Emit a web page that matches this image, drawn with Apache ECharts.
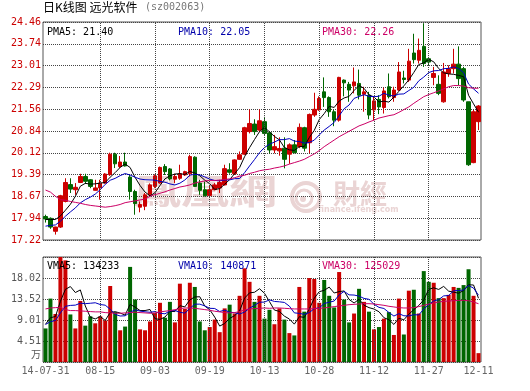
<!DOCTYPE html>
<html><head><meta charset="utf-8">
<script src="https://cdn.jsdelivr.net/npm/echarts@6/dist/echarts.min.js"></script>
<style>html,body{margin:0;padding:0;background:#fff;}#c{width:530px;height:391px;}</style>
</head><body><div id="c"></div>
<script>
// ---------- data ----------
const dates = ['2014-07-31','2014-08-01','2014-08-04','2014-08-05','2014-08-06','2014-08-07','2014-08-08','2014-08-11','2014-08-12','2014-08-13','2014-08-14','2014-08-15',
'2014-08-18','2014-08-19','2014-08-20','2014-08-25','2014-08-26','2014-08-27','2014-08-28','2014-08-29','2014-09-01','2014-09-02','2014-09-03',
'2014-09-04','2014-09-05','2014-09-09','2014-09-10','2014-09-11','2014-09-12','2014-09-15','2014-09-16','2014-09-17','2014-09-18','2014-09-19',
'2014-09-22','2014-09-23','2014-09-24','2014-09-25','2014-09-26','2014-09-29','2014-09-30','2014-10-08','2014-10-09','2014-10-10','2014-10-13',
'2014-10-14','2014-10-15','2014-10-16','2014-10-17','2014-10-20','2014-10-21','2014-10-22','2014-10-23','2014-10-24','2014-10-27','2014-10-28',
'2014-10-29','2014-10-30','2014-10-31','2014-11-03','2014-11-04','2014-11-05','2014-11-06','2014-11-07','2014-11-10','2014-11-11','2014-11-12',
'2014-11-13','2014-11-14','2014-11-17','2014-11-18','2014-11-19','2014-11-20','2014-11-21','2014-11-24','2014-11-25','2014-11-26','2014-11-27',
'2014-11-28','2014-12-01','2014-12-02','2014-12-03','2014-12-04','2014-12-05','2014-12-08','2014-12-09','2014-12-10','2014-12-11'];

const opens = [18.00,17.94,17.51,17.65,18.50,19.06,18.89,19.13,19.33,19.22,18.87,18.95,19.11,19.39,20.07,19.66,19.81,19.31,18.83,18.31,18.34,18.72,19.00,19.11,19.66,19.58,19.24,19.27,19.38,19.42,19.97,19.11,18.89,18.70,18.89,18.95,19.05,19.55,19.42,19.90,20.07,20.82,21.07,20.87,
21.15,20.78,20.21,20.18,20.27,20.07,20.38,20.32,20.95,20.45,21.37,21.54,22.14,21.95,21.48,21.20,22.53,22.39,22.34,22.42,22.06,22.03,21.54,21.89,21.62,22.31,21.95,22.20,22.60,22.53,23.43,23.19,23.65,23.24,22.62,22.39,21.81,22.75,22.91,23.06,22.91,21.81,19.79,21.15];
const closes = [17.92,17.65,17.65,18.69,19.13,18.91,18.97,19.33,19.17,19.00,18.95,19.11,19.41,20.07,19.75,19.81,19.68,18.83,18.43,18.40,18.72,19.05,19.35,19.63,19.49,19.25,19.33,19.42,19.49,19.99,19.00,18.87,18.69,18.89,19.05,19.13,19.59,19.47,19.88,20.05,20.95,21.09,20.82,21.18,
20.76,20.21,20.32,20.26,19.90,20.38,20.12,20.96,20.27,21.39,21.56,21.92,21.95,21.48,21.20,22.62,22.44,22.20,22.47,22.03,22.14,21.37,21.84,21.64,22.17,21.98,22.20,22.80,22.55,23.16,23.21,23.52,23.08,23.13,22.75,22.09,22.80,22.91,23.06,22.58,21.87,19.72,21.48,21.67];
const lows = [17.80,17.59,17.40,17.62,18.47,18.78,18.72,19.11,19.08,18.94,18.86,18.56,19.09,19.35,19.61,19.61,19.66,18.56,18.06,18.14,18.21,18.70,18.95,19.09,19.38,19.20,19.11,19.22,19.35,19.33,18.99,18.72,18.67,18.67,18.87,18.78,19.03,19.42,19.38,19.88,20.05,20.76,20.71,20.82,
20.71,20.10,20.10,20.02,19.60,19.75,20.10,20.27,20.16,20.10,21.31,21.51,21.64,21.31,21.00,21.15,21.99,21.81,22.09,21.89,21.48,21.23,21.20,21.40,21.42,21.92,21.81,22.17,22.42,22.47,23.08,23.08,22.97,23.02,22.36,22.03,21.78,22.64,22.75,22.36,21.81,19.68,19.77,20.87];
const highs = [18.06,17.97,17.66,18.72,19.27,19.27,19.11,19.42,19.42,19.24,19.22,19.22,19.44,20.12,20.12,20.01,20.12,19.38,18.89,18.50,18.78,19.10,19.40,19.66,19.74,19.61,19.42,19.72,19.52,20.05,20.00,19.22,19.16,19.05,19.11,19.22,19.72,19.77,19.90,20.16,20.98,21.56,21.23,21.56,
21.31,20.82,20.71,20.63,20.63,20.43,20.54,21.09,20.98,21.42,22.11,21.99,22.62,21.99,21.54,22.64,22.55,22.47,22.95,22.88,22.31,22.14,21.98,22.03,22.28,22.75,22.31,23.13,22.84,23.57,24.07,23.91,24.42,23.30,22.97,22.69,23.10,23.02,23.57,23.65,22.97,21.81,21.54,21.70];
// volume, in 万
const volumes = [7.2,13.6,10.3,25.0,21.8,10.2,7.2,13.1,7.8,9.8,8.3,9.8,8.9,16.3,10.7,6.8,7.6,20.4,13.4,7.0,6.8,8.7,10.5,12.7,9.5,12.9,8.5,16.8,11.4,17.0,16.1,8.7,6.8,7.5,9.1,6.4,11.5,12.3,10.4,14.2,20.1,17.2,12.9,
14.2,9.3,11.2,8.1,11.5,9.1,6.2,5.7,16.1,10.8,18.0,17.8,12.7,17.6,14.2,11.7,19.3,13.4,8.5,10.4,15.7,12.9,10.8,7.0,7.5,9.3,10.7,5.8,13.6,5.9,15.3,15.5,10.4,19.5,17.2,17.0,13.7,13.7,14.4,16.1,15.9,16.5,19.9,14.2,1.9];
// closes / volumes of the days just before the window (estimated from where the MA lines start)
const priorCloses = [17.40,17.50,17.45,17.48,17.47,17.65,17.65,18.10,18.18];
const priorVolumes = [7.5,8.0,8.5,7.8,8.2,6.6,9.0,8.7,9.0];
// 30-day averages (their window reaches outside the chart)
const ma30 = [18.88,18.81,18.67,18.56,18.54,18.50,18.47,18.44,18.40,18.37,18.35,18.33,18.31,18.33,18.36,18.40,18.46,18.49,18.52,18.55,
18.58,18.67,18.73,18.77,18.82,18.88,18.93,18.98,19.01,19.05,19.11,19.15,19.18,19.20,19.20,19.21,19.23,19.25,19.29,19.34,
19.37,19.43,19.47,19.52,19.55,19.57,19.61,19.64,19.68,19.74,19.79,19.84,19.90,19.99,20.08,20.19,20.32,20.43,20.54,20.65,
20.74,20.83,20.92,21.01,21.07,21.14,21.20,21.27,21.31,21.35,21.38,21.46,21.55,21.64,21.76,21.87,21.98,22.05,22.11,22.17,
22.24,22.31,22.35,22.35,22.33,22.28,22.26,22.26];
const vma30 = [11.38,11.59,11.66,11.74,11.24,11.03,11.03,10.96,10.89,10.82,10.75,10.75,10.60,10.53,10.46,10.46,10.53,10.60,10.68,10.60,
10.53,10.46,10.53,10.75,10.89,11.03,11.24,11.45,11.59,11.59,11.52,11.38,11.24,11.10,10.89,10.75,10.60,10.53,10.60,10.82,
11.17,11.38,11.45,11.52,11.59,11.52,11.59,11.59,11.52,11.45,11.38,11.38,11.38,11.38,11.45,11.52,11.59,11.74,11.88,12.02,
12.16,12.30,12.37,12.44,12.51,12.51,12.44,12.30,12.16,11.95,11.81,11.66,11.59,11.59,11.66,11.88,12.16,12.44,12.65,12.87,
13.01,13.08,13.15,13.22,13.22,13.15,12.87,12.50];
const priceTicks = ['17.22','17.94','18.67','19.39','20.12','20.84','21.56','22.29','23.01','23.74','24.46'];
const volTicks = ['万','4.51','9.01','13.52','18.02',''];
const headerPrice = ['PMA5: 21.40','PMA10: 22.05','PMA30: 22.26'];
const headerVol = ['VMA5: 134233','VMA10: 140871','VMA30: 125029'];
const titleMain = '日K线图 远光软件';
const titleCode = '(sz002063)';

// ---------- build ----------
function movingAvg(values, prior, n) {
  const all = prior.concat(values), off = prior.length;
  return values.map((_, i) => {
    const j = i + off;
    if (j - n + 1 < 0) return '-';
    let s = 0;
    for (let k = j - n + 1; k <= j; k++) s += all[k];
    return +(s / n).toFixed(3);
  });
}
const RED = '#cc0000', GREEN = '#006600', BLUE = '#0000c0', MAG = '#cc0066';
const MONO = '"DejaVu Sans Mono", monospace';
const kData = opens.map((o, i) => [o, closes[i], lows[i], highs[i]]);
const ma5 = movingAvg(closes, priorCloses, 5);
const ma10 = movingAvg(closes, priorCloses, 10);
const vma5 = movingAvg(volumes, priorVolumes, 5);
const vma10 = movingAvg(volumes, priorVolumes, 10);
const labelIdx = i => i % 11 === 0 || i === dates.length - 1;
const vGrid = [11, 22, 33, 44, 55, 66, 77].map(i => ({ xAxis: dates[i] }));
const dotted = { color: '#444', type: [1, 1], width: 1 };
const vLines = { silent: true, symbol: ['none', 'none'], label: { show: false }, lineStyle: dotted, data: vGrid, animation: false, emphasis: { disabled: true } };

function lineSeries(data, color, xi, yi) {
  return { type: 'line', data, xAxisIndex: xi, yAxisIndex: yi, showSymbol: false, symbol: 'none',
    lineStyle: { color, width: 1 }, itemStyle: { color }, silent: true, z: 3 };
}
function headerTexts(texts, y) {
  const xs = [47, 178, 322], cols = ['#000', '#0000aa', MAG];
  return texts.map((t, i) => ({ type: 'text', left: xs[i], top: y, z: 10,
    style: { text: t, fill: cols[i], font: '10px ' + MONO } }));
}
const wm = '#ead4d4';
const chart = echarts.init(document.getElementById('c'));
chart.setOption({
  animation: false,
  backgroundColor: '#fff',
  grid: [
    { left: 43, top: 22, width: 438, height: 218, show: true, borderColor: '#555', borderWidth: 1 },
    { left: 43, top: 257, width: 438, height: 105, show: true, borderColor: '#555', borderWidth: 1 }
  ],
  xAxis: [
    { type: 'category', gridIndex: 0, data: dates, axisLine: { show: false }, axisTick: { show: false }, axisLabel: { show: false }, splitLine: { show: false } },
    { type: 'category', gridIndex: 1, data: dates, axisLine: { show: false }, axisTick: { show: false }, splitLine: { show: false },
      axisLabel: { interval: (i) => labelIdx(i), formatter: (v, i) => (i === 0 ? v.slice(2) : v.slice(5)),
        color: '#666', fontFamily: MONO, fontSize: 10, margin: 4 } }
  ],
  yAxis: [
    { type: 'value', gridIndex: 0, min: 17.22, max: 24.46, show: false },
    { type: 'value', gridIndex: 0, min: 0, max: 10, interval: 1, position: 'left',
      axisLine: { show: false }, axisTick: { show: false },
      axisLabel: { formatter: (v) => priceTicks[Math.round(v)], color: RED, fontFamily: MONO, fontSize: 10, margin: 2 },
      splitLine: { show: true, lineStyle: dotted } },
    { type: 'value', gridIndex: 1, min: 0, max: 22.525, show: false },
    { type: 'value', gridIndex: 1, min: 0, max: 5, interval: 1, position: 'left',
      axisLine: { show: false }, axisTick: { show: false },
      axisLabel: { formatter: (v) => (Math.round(v) === 0 ? '{u|' + volTicks[0] + '}' : volTicks[Math.round(v)]),
        color: '#555', fontFamily: MONO, fontSize: 10, margin: 2,
        rich: { u: { fontFamily: '"Noto Sans CJK SC"', fontSize: 10, color: '#555', padding: [0, 0, 16, 0] } } },
      splitLine: { show: true, lineStyle: dotted } }
  ],
  graphic: [
    { type: 'text', left: 43, top: 1, style: { text: titleMain, fill: '#000', font: '12px "Noto Sans CJK SC"' } },
    { type: 'text', left: 145, top: 2, style: { text: titleCode, fill: '#777', font: '10px ' + MONO } },
    ...headerTexts(headerPrice, 27),
    ...headerTexts(headerVol, 261),
    // watermark
    { type: 'text', left: 133, top: 174, z: -1, scaleY: 0.7, style: { text: '鳳凰網', fill: wm, font: 'bold 48px "Noto Sans CJK TC"' } },
    { type: 'circle', z: -1, shape: { cx: 306, cy: 197, r: 14 }, style: { fill: 'none', stroke: wm, lineWidth: 4 } },
    { type: 'circle', z: -1, shape: { cx: 304, cy: 198, r: 8 }, style: { fill: 'none', stroke: wm, lineWidth: 3 } },
    { type: 'circle', z: -1, shape: { cx: 303, cy: 199, r: 3 }, style: { fill: wm } },
    { type: 'text', left: 333, top: 180, z: -1, style: { text: '財經', fill: wm, font: 'bold 27px "Noto Sans CJK TC"' } },
    { type: 'text', left: 318, top: 206, z: -1, style: { text: 'finance.ifeng.com', fill: wm, font: 'bold 8px "DejaVu Sans"' } }
  ],
  series: [
    { type: 'candlestick', xAxisIndex: 0, yAxisIndex: 0, data: kData, barWidth: 4, silent: true, z: 2,
      itemStyle: { color: RED, color0: GREEN, borderColor: RED, borderColor0: GREEN, borderWidth: 1 },
      markLine: vLines },
    lineSeries(ma5, '#000', 0, 0),
    lineSeries(ma10, BLUE, 0, 0),
    lineSeries(ma30, MAG, 0, 0),
    { type: 'bar', xAxisIndex: 1, yAxisIndex: 2, data: volumes, barWidth: 4, silent: true, z: 2,
      itemStyle: { color: (p) => (closes[p.dataIndex] >= opens[p.dataIndex] ? RED : GREEN) },
      markLine: vLines },
    lineSeries(vma5, '#000', 1, 2),
    lineSeries(vma10, BLUE, 1, 2),
    lineSeries(vma30, MAG, 1, 2)
  ]
});
</script></body></html>
